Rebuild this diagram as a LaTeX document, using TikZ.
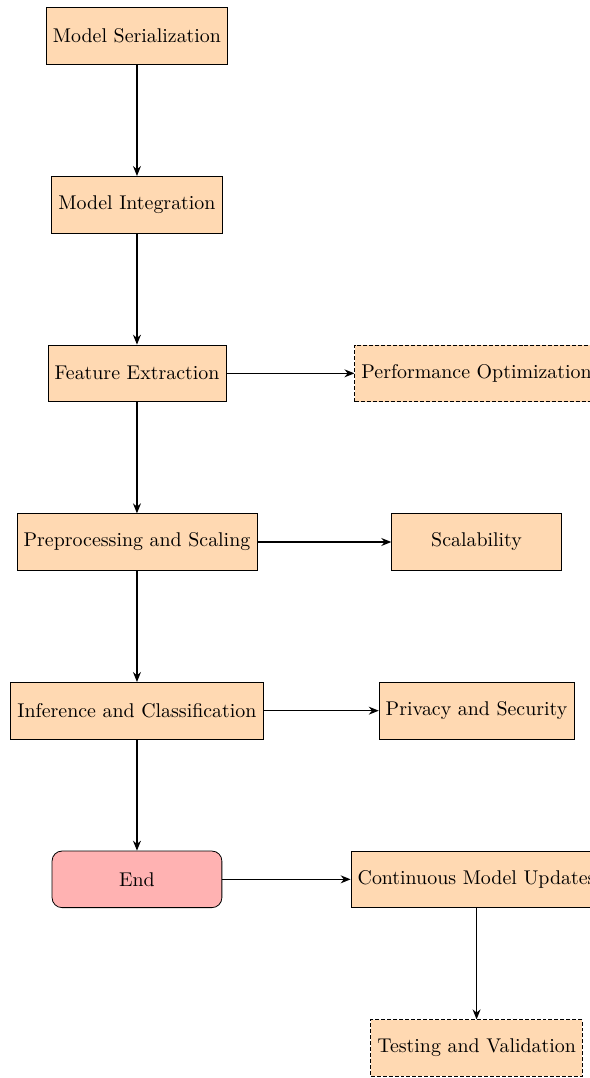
\documentclass[tikz,border=0pt]{standalone}
\usetikzlibrary{arrows.meta}
\begin{document}
\begin{tikzpicture}[
  box/.style={draw, thin, fill=orange!30, minimum width=3cm, minimum height=1cm, align=center},
  endbox/.style={draw, thin, fill=red!30, rounded corners=5pt, minimum width=3cm, minimum height=1cm},
  dbox/.style={box, dash pattern=on 2pt off 1pt},
  conn/.style={-{Stealth[length=5pt,width=4pt]}, semithick}
]
\useasboundingbox (-2.42,0.636) rectangle (8.0,-18.41);
\clip (-2.42,0.636) rectangle (8.0,-18.41);
\node[box] (ser) at (0,0) {Model Serialization};
\node[box] (int) at (0,-2.98) {Model Integration};
\node[box] (fe) at (0,-5.96) {Feature Extraction};
\node[dbox] (perf) at (6,-5.96) {Performance Optimization};
\node[box] (pre) at (0,-8.94) {Preprocessing and Scaling};
\node[box] (sca) at (6,-8.94) {Scalability};
\node[box] (inf) at (0,-11.92) {Inference and Classification};
\node[box] (priv) at (6,-11.92) {Privacy and Security};
\node[endbox] (end) at (0,-14.9) {End};
\node[box] (cont) at (6,-14.9) {Continuous Model Updates};
\node[dbox] (test) at (6,-17.88) {Testing and Validation};
\draw[conn] (ser) -- (int);
\draw[conn] (int) -- (fe);
\draw[conn] (fe) -- (pre);
\draw[conn] (pre) -- (inf);
\draw[conn] (inf) -- (end);
\draw[conn] (fe) -- (perf);
\draw[conn] (pre) -- (sca);
\draw[conn] (inf) -- (priv);
\draw[conn] (end) -- (cont);
\draw[conn] (cont) -- (test);
\end{tikzpicture}
\end{document}
